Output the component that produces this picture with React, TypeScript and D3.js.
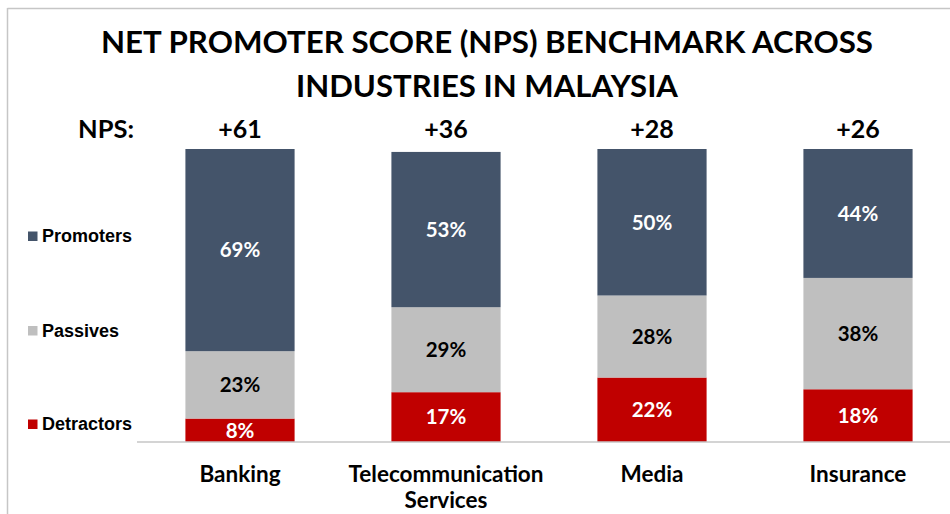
import React from "react";
import * as d3 from "d3";

const categories = ["Banking", "Telecommunication Services", "Media", "Insurance"];
const categoryLines = [["Banking"], ["Telecommunication", "Services"], ["Media"], ["Insurance"]];
const detractors = [8, 17, 22, 18];
const passives = [23, 29, 28, 38];
const promoters = [69, 53, 50, 44];
const npsLabels = ["+61", "+36", "+28", "+26"];
const seriesKeys = ["Detractors", "Passives", "Promoters"];
const titleLines = ["NET PROMOTER SCORE (NPS) BENCHMARK ACROSS", "INDUSTRIES IN MALAYSIA"];

const W = 950;
const H = 514;
const colors: Record<string, string> = {
  Promoters: "#44546a",
  Passives: "#bfbfbf",
  Detractors: "#c00000",
};
const labelColors: Record<string, string> = {
  Promoters: "#ffffff",
  Passives: "#000000",
  Detractors: "#ffffff",
};
const CAL = "Lato, 'Open Sans', sans-serif";

export default function App() {
  const rows = categories.map((c, i) => ({
    category: c,
    Detractors: detractors[i],
    Passives: passives[i],
    Promoters: promoters[i],
  }));
  const stack = d3.stack<any>().keys(seriesKeys);
  const series = stack(rows);

  const x = d3
    .scaleBand<string>()
    .domain(categories)
    .range([137, 961])
    .paddingInner(0.47)
    .paddingOuter(0.235);
  const y = d3.scaleLinear().domain([0, 100]).range([442, 149]);

  const legendItems = [
    { key: "Promoters", y: 236 },
    { key: "Passives", y: 330.5 },
    { key: "Detractors", y: 424 },
  ];

  return (
    <svg
      width={W}
      height={H}
      style={{ position: "absolute", left: 0, top: 0, background: "#fff" }}
    >
      {/* frame */}
      <line x1={7.5} x2={W} y1={8.5} y2={8.5} stroke="#c6c6c6" strokeWidth={1.5} />
      <line x1={7.5} x2={7.5} y1={8} y2={H} stroke="#c6c6c6" strokeWidth={1.5} />

      {/* title */}
      <text
        x={487}
        y={53}
        textAnchor="middle"
        fontFamily={CAL}
        fontWeight="bold"
        fontSize={30}
        fill="#000"
        textLength={772}
        lengthAdjust="spacingAndGlyphs"
      >
        {titleLines[0]}
      </text>
      <text
        x={487}
        y={97}
        textAnchor="middle"
        fontFamily={CAL}
        fontWeight="bold"
        fontSize={30}
        fill="#000"
        textLength={382}
        lengthAdjust="spacingAndGlyphs"
      >
        {titleLines[1]}
      </text>

      {/* NPS row */}
      <text
        x={78}
        y={138}
        fontFamily={CAL}
        fontWeight="bold"
        fontSize={24}
        fill="#000"
        textLength={56}
        lengthAdjust="spacingAndGlyphs"
      >
        NPS:
      </text>
      {categories.map((c, i) => (
        <text
          key={c}
          x={(x(c) as number) + x.bandwidth() / 2}
          y={138}
          textAnchor="middle"
          fontFamily={CAL}
          fontWeight="bold"
          fontSize={25}
          fill="#000"
        >
          {npsLabels[i]}
        </text>
      ))}

      {/* bars */}
      {series.map((s) => (
        <g key={s.key}>
          {s.map((d, i) => {
            const c = categories[i];
            const x0 = x(c) as number;
            const yTop = y(d[1]);
            const yBot = y(d[0]);
            return (
              <g key={c}>
                <rect x={x0} y={yTop} width={x.bandwidth()} height={yBot - yTop} fill={colors[s.key]} />
                <text
                  x={x0 + x.bandwidth() / 2}
                  y={(yTop + yBot) / 2}
                  dy="0.36em"
                  textAnchor="middle"
                  fontFamily={CAL}
                  fontWeight="bold"
                  fontSize={20.5}
                  fill={labelColors[s.key]}
                >
                  {`${d[1] - d[0]}%`}
                </text>
              </g>
            );
          })}
        </g>
      ))}

      {/* axis line */}
      <line x1={137} x2={W} y1={442} y2={442} stroke="#c6c6c6" strokeWidth={1.5} />

      {/* category labels */}
      {categories.map((c, i) => (
        <text
          key={c}
          x={(x(c) as number) + x.bandwidth() / 2}
          y={482}
          textAnchor="middle"
          fontFamily={CAL}
          fontWeight="bold"
          fontSize={22.5}
          fill="#000"
        >
          {categoryLines[i].map((ln, j) => (
            <tspan key={j} x={(x(c) as number) + x.bandwidth() / 2} dy={j === 0 ? 0 : 26}>
              {ln}
            </tspan>
          ))}
        </text>
      ))}

      {/* legend */}
      {legendItems.map((it) => (
        <g key={it.key}>
          <rect x={28} y={it.y - 4.5} width={9.5} height={9.5} fill={colors[it.key]} />
          <text
            x={42}
            y={it.y + 6.3}
            fontFamily="'Liberation Sans', Arial, sans-serif"
            fontWeight="bold"
            fontSize={18}
            fill="#000"
          >
            {it.key}
          </text>
        </g>
      ))}
    </svg>
  );
}
